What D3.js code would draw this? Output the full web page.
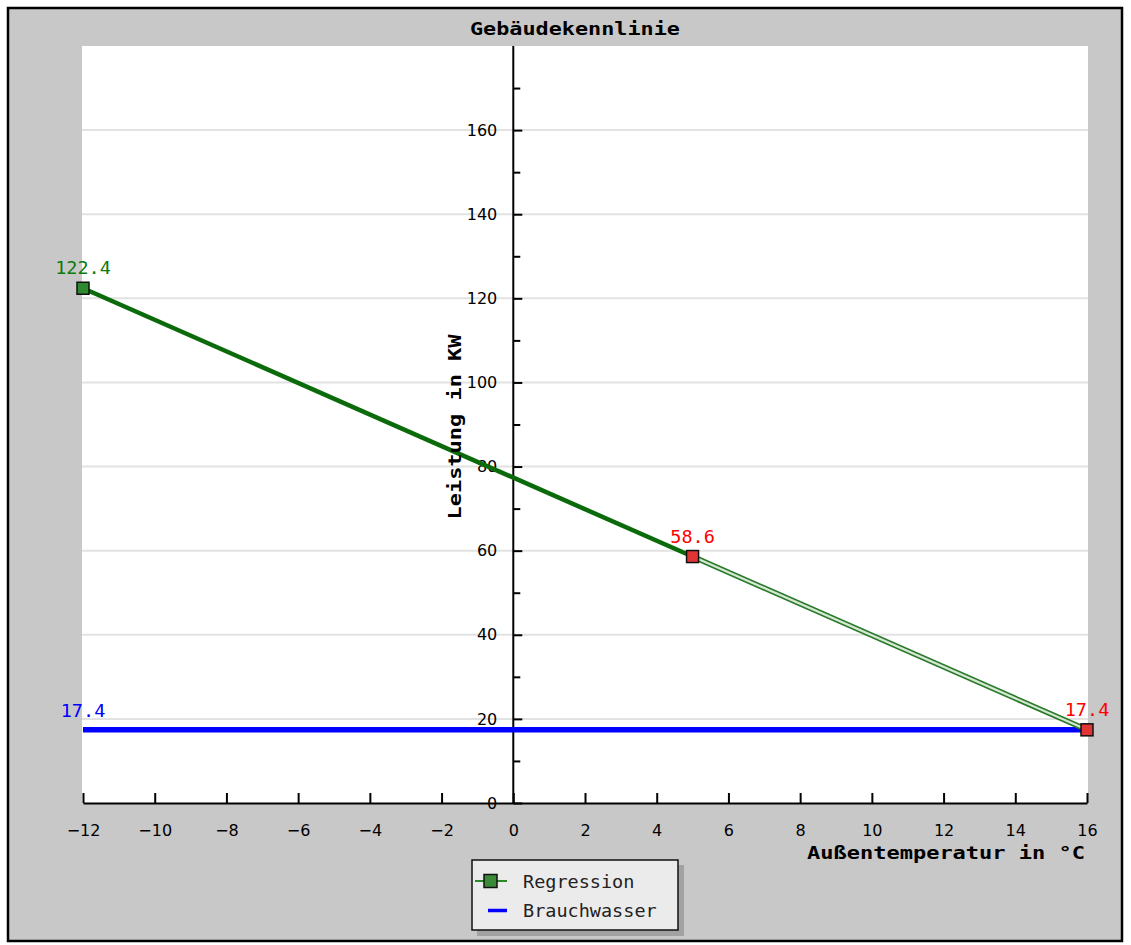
<!DOCTYPE html>
<html>
<head>
<meta charset="utf-8">
<script src="https://cdn.jsdelivr.net/npm/d3@7"></script>
<style>
  body { margin: 0; background: #fff; }
  text { font-family: "DejaVu Sans", sans-serif; }
  .mono { font-family: "DejaVu Sans Mono", monospace; }
</style>
</head>
<body>
<script>
// data
var regTemps = [-12, 5, 16];
var regValues = [122.4, 58.6, 17.4];
var regColors = ["green", "red", "red"];
var waterTemps = [-12, 16];
var waterValues = [17.4, 17.4];
var xTicks = [-12, -10, -8, -6, -4, -2, 0, 2, 4, 6, 8, 10, 12, 14, 16];
var yTicks = [0, 20, 40, 60, 80, 100, 120, 140, 160];
var yMinor = [10, 30, 50, 70, 90, 110, 130, 150, 170];
var legendNames = ["Regression", "Brauchwasser"];

var width = 1131;
var height = 945;
var plot = {left: 83, right: 1087, top: 46, bottom: 803};

var svg = d3.select("body")
  .append("svg")
  .attr("width", width)
  .attr("height", height);

// frame + gray background
svg.append("rect")
  .attr("x", 8).attr("y", 8)
  .attr("width", 1114).attr("height", 933)
  .attr("fill", "#c8c8c8")
  .attr("stroke", "#000")
  .attr("stroke-width", 2.5);

var x = d3.scaleLinear().domain([-12, 16]).range([plot.left, plot.right]);
var y = d3.scaleLinear().domain([0, 180]).range([plot.bottom, plot.top]);

// white plotting area
svg.append("rect")
  .attr("x", 82).attr("y", plot.top)
  .attr("width", 1088 - 82).attr("height", plot.bottom - plot.top)
  .attr("fill", "#fff");

// grid
svg.append("g")
  .selectAll("line")
  .data(yTicks.filter(function(d) { return d > 0; }))
  .enter()
  .append("line")
  .attr("x1", 82).attr("x2", 1088)
  .attr("y1", function(d) { return y(d); })
  .attr("y2", function(d) { return y(d); })
  .attr("stroke", "#e2e2e2")
  .attr("stroke-width", 2);

// x axis (ticks pointing up)
var xAxis = svg.append("g")
  .attr("transform", "translate(0," + plot.bottom + ")")
  .call(d3.axisBottom(x).tickValues(xTicks)
    .tickSizeInner(-10).tickSizeOuter(0).tickPadding(22)
    .tickFormat(function(d) { return d < 0 ? "\u2212" + Math.abs(d) : d; }));
xAxis.selectAll("path, line").attr("stroke", "#000").attr("stroke-width", 2);
xAxis.selectAll("text")
  .attr("font-family", "DejaVu Sans")
  .attr("font-size", 16)
  .attr("fill", "#000");

// y axis at x = 0 (ticks pointing right)
var yAxis = svg.append("g")
  .attr("transform", "translate(" + x(0) + ",0)")
  .call(d3.axisLeft(y).tickValues(yTicks)
    .tickSizeInner(-9).tickSizeOuter(0).tickPadding(16));
yAxis.select(".domain").attr("d", "M0," + plot.top + "V" + plot.bottom);
yAxis.selectAll("path, line").attr("stroke", "#000").attr("stroke-width", 2);
yAxis.selectAll("text")
  .attr("font-family", "DejaVu Sans")
  .attr("font-size", 16)
  .attr("fill", "#000");

var yMinorAxis = svg.append("g")
  .attr("transform", "translate(" + x(0) + ",0)")
  .call(d3.axisLeft(y).tickValues(yMinor)
    .tickSizeInner(-7).tickSizeOuter(0).tickFormat(""));
yMinorAxis.select(".domain").remove();
yMinorAxis.selectAll("line").attr("stroke", "#000").attr("stroke-width", 2);

// Brauchwasser line
var waterLine = d3.line()
  .x(function(d, i) { return x(waterTemps[i]); })
  .y(function(d) { return y(d); });
svg.append("path")
  .datum(waterValues)
  .attr("d", waterLine)
  .attr("fill", "none")
  .attr("stroke", "#0000ff")
  .attr("stroke-width", 5.5);

// Regression line: solid to the measured point, double outline afterwards
var regLine = d3.line()
  .x(function(d) { return x(d[0]); })
  .y(function(d) { return y(d[1]); });
var regPts = regTemps.map(function(t, i) { return [t, regValues[i]]; });
svg.append("path")
  .datum(regPts.slice(0, 2))
  .attr("d", regLine)
  .attr("fill", "none")
  .attr("stroke", "#0b6b0b")
  .attr("stroke-width", 4.5);
svg.append("path")
  .datum(regPts.slice(1))
  .attr("d", regLine)
  .attr("fill", "none")
  .attr("stroke", "#2a7a2a")
  .attr("stroke-width", 5.5);
svg.append("path")
  .datum(regPts.slice(1))
  .attr("d", regLine)
  .attr("fill", "none")
  .attr("stroke", "#d4e8d4")
  .attr("stroke-width", 2.2);

// markers
svg.selectAll(".marker")
  .data(regPts)
  .enter()
  .append("rect")
  .attr("class", "marker")
  .attr("x", function(d) { return x(d[0]) - 6; })
  .attr("y", function(d) { return y(d[1]) - 6; })
  .attr("width", 12).attr("height", 12)
  .attr("fill", function(d, i) { return regColors[i] == "green" ? "#2f8a2f" : "#e03535"; })
  .attr("stroke", "#111")
  .attr("stroke-width", 1.5);

// value labels
svg.selectAll(".vlabel")
  .data(regPts)
  .enter()
  .append("text")
  .attr("class", "vlabel mono")
  .attr("x", function(d) { return x(d[0]); })
  .attr("y", function(d) { return y(d[1]) - 14; })
  .attr("text-anchor", "middle")
  .attr("font-size", 18.5)
  .attr("fill", function(d, i) { return regColors[i] == "green" ? "#0b7a0b" : "#ff0000"; })
  .text(function(d) { return d[1].toFixed(1); });

svg.append("text")
  .attr("class", "mono")
  .attr("x", x(waterTemps[0]))
  .attr("y", y(waterValues[0]) - 13)
  .attr("text-anchor", "middle")
  .attr("font-size", 18.5)
  .attr("fill", "#0000ff")
  .text(waterValues[0].toFixed(1));

// titles
svg.append("text")
  .attr("class", "mono")
  .attr("x", 575).attr("y", 35)
  .attr("text-anchor", "middle")
  .attr("font-size", 17).attr("font-weight", "bold")
  .attr("textLength", 210).attr("lengthAdjust", "spacingAndGlyphs")
  .text("Gebäudekennlinie");

svg.append("text")
  .attr("class", "mono")
  .attr("x", 1085).attr("y", 859)
  .attr("text-anchor", "end")
  .attr("font-size", 17).attr("font-weight", "bold")
  .attr("textLength", 278).attr("lengthAdjust", "spacingAndGlyphs")
  .text("Außentemperatur in °C");

svg.append("text")
  .attr("class", "mono")
  .attr("transform", "translate(461,427) rotate(-90)")
  .attr("text-anchor", "middle")
  .attr("font-size", 17).attr("font-weight", "bold")
  .attr("textLength", 185).attr("lengthAdjust", "spacingAndGlyphs")
  .text("Leistung in KW");

// legend
var legend = svg.append("g");
legend.append("rect")
  .attr("x", 477).attr("y", 865)
  .attr("width", 207).attr("height", 71)
  .attr("fill", "#a2a2a2");
legend.append("rect")
  .attr("x", 472).attr("y", 860)
  .attr("width", 206).attr("height", 70)
  .attr("fill", "#ebebeb")
  .attr("stroke", "#111")
  .attr("stroke-width", 1.5);

var item = legend.selectAll(".item")
  .data(legendNames)
  .enter()
  .append("g")
  .attr("class", "item")
  .attr("transform", function(d, i) { return "translate(0," + (881 + i * 29.5) + ")"; });

item.append("line")
  .attr("x1", function(d, i) { return i == 0 ? 475 : 488; })
  .attr("x2", 507)
  .attr("y1", 0).attr("y2", 0)
  .attr("stroke", function(d, i) { return i == 0 ? "#2a8a2a" : "#0000ff"; })
  .attr("stroke-width", function(d, i) { return i == 0 ? 2 : 3.5; });

item.filter(function(d, i) { return i == 0; })
  .append("rect")
  .attr("x", 484).attr("y", -6.5)
  .attr("width", 13).attr("height", 13)
  .attr("fill", "#3a8a3a")
  .attr("stroke", "#111")
  .attr("stroke-width", 1.5);

item.append("text")
  .attr("class", "mono")
  .attr("x", 523).attr("y", 0)
  .attr("dy", "0.36em")
  .attr("font-size", 18.5)
  .attr("fill", "#222")
  .text(function(d) { return d; });
</script>
</body>
</html>
